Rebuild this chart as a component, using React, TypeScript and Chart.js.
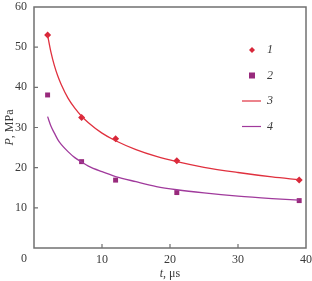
import React, { useEffect, useRef } from "react";
import { Chart, registerables } from "chart.js";

Chart.register(...registerables);

const markerT = [2, 7, 12, 21, 39];
const series1 = [53, 32.5, 27.2, 21.7, 16.9];
const series2 = [38.1, 21.5, 16.9, 13.8, 11.8];
const curveT = [2, 2.5, 3, 3.5, 4, 5, 6, 7, 8, 10, 12, 15, 18, 21, 25, 30, 35, 39];
const curve3 = [53, 48.7, 45.4, 42.8, 40.7, 37.3, 34.8, 32.8, 31.2, 28.6, 26.7, 24.5, 22.8, 21.5, 20.1, 18.8, 17.7, 17.0];
const curve4 = [32.7, 30.3, 28.6, 27.0, 25.8, 24.0, 22.5, 21.4, 20.4, 19.0, 17.8, 16.5, 15.3, 14.5, 13.7, 12.9, 12.3, 11.9];
const legendLabels = ["1", "2", "3", "4"];
const xTicks = [0, 10, 20, 30, 40];
const yTicks = [0, 10, 20, 30, 40, 50, 60];

const RED = "#d8283a";
const PURPLE = "#982a7c";
const LINE3 = "#e0303e";
const LINE4 = "#a03a9c";
const AXIS = "#707070";
const TEXT = "#3a3a3a";
const FONT = "'Liberation Serif', 'Times New Roman', serif";

const decorPlugin = {
  id: "decor",
  afterDraw(chart: any) {
    const ctx = chart.ctx;
    const { left, right, top, bottom } = chart.chartArea;
    const xs = chart.scales.x;
    const ys = chart.scales.y;
    ctx.save();
    // frame
    ctx.strokeStyle = AXIS;
    ctx.lineWidth = 1.5;
    ctx.strokeRect(left, top, right - left, bottom - top);
    // inward ticks
    ctx.lineWidth = 1.2;
    ctx.beginPath();
    xTicks.slice(1, -1).forEach((v) => {
      const px = xs.getPixelForValue(v);
      ctx.moveTo(px, bottom);
      ctx.lineTo(px, bottom - 4);
    });
    yTicks.slice(1, -1).forEach((v) => {
      const py = ys.getPixelForValue(v);
      ctx.moveTo(left, py);
      ctx.lineTo(left + 4, py);
    });
    ctx.stroke();
    // origin label
    ctx.fillStyle = TEXT;
    ctx.font = `12px ${FONT}`;
    ctx.textAlign = "center";
    ctx.textBaseline = "middle";
    ctx.fillText("0", left - 10, bottom + 11);

    // x title: "t, μs"
    const cx = (left + right) / 2;
    const ty = bottom + 26;
    ctx.textAlign = "left";
    ctx.font = `italic 12px ${FONT}`;
    const wT = ctx.measureText("t").width;
    ctx.font = `12px ${FONT}`;
    const wRest = ctx.measureText(", μs").width;
    let sx = cx - (wT + wRest) / 2;
    ctx.font = `italic 12px ${FONT}`;
    ctx.fillText("t", sx, ty);
    ctx.font = `12px ${FONT}`;
    ctx.fillText(", μs", sx + wT, ty);

    // y title: "P, MPa"
    const cy = (top + bottom) / 2;
    ctx.save();
    ctx.translate(10, cy);
    ctx.rotate(-Math.PI / 2);
    ctx.font = `italic 12px ${FONT}`;
    const wP = ctx.measureText("P").width;
    ctx.font = `12px ${FONT}`;
    const wR2 = ctx.measureText(", MPa").width;
    sx = -(wP + wR2) / 2;
    ctx.font = `italic 12px ${FONT}`;
    ctx.fillText("P", sx, 0);
    ctx.font = `12px ${FONT}`;
    ctx.fillText(", MPa", sx + wP, 0);
    ctx.restore();

    // legend
    const lx = right - 54;
    const ly0 = top + 43;
    const gap = 25.5;
    legendLabels.forEach((lab, i) => {
      const y = ly0 + i * gap;
      if (i === 0) {
        ctx.fillStyle = RED;
        ctx.beginPath();
        ctx.moveTo(lx, y - 3);
        ctx.lineTo(lx + 3, y);
        ctx.lineTo(lx, y + 3);
        ctx.lineTo(lx - 3, y);
        ctx.closePath();
        ctx.fill();
      } else if (i === 1) {
        ctx.fillStyle = PURPLE;
        ctx.fillRect(lx - 3, y - 3, 6, 6);
      } else {
        ctx.strokeStyle = i === 2 ? LINE3 : LINE4;
        ctx.lineWidth = 1.2;
        ctx.beginPath();
        ctx.moveTo(lx - 10, y);
        ctx.lineTo(lx + 9, y);
        ctx.stroke();
      }
      ctx.fillStyle = TEXT;
      ctx.font = `italic 12px ${FONT}`;
      ctx.textAlign = "left";
      ctx.textBaseline = "middle";
      ctx.fillText(lab, lx + 15, y);
    });
    ctx.restore();
  },
};

export default function App() {
  const ref = useRef<HTMLCanvasElement | null>(null);
  useEffect(() => {
    if (!ref.current) return;
    const chart = new Chart(ref.current, {
      type: "scatter",
      data: {
        datasets: [
          {
            label: "3",
            data: curveT.map((t, i) => ({ x: t, y: curve3[i] })),
            showLine: true,
            borderColor: LINE3,
            borderWidth: 1.3,
            pointRadius: 0,
            cubicInterpolationMode: "monotone",
          },
          {
            label: "4",
            data: curveT.map((t, i) => ({ x: t, y: curve4[i] })),
            showLine: true,
            borderColor: LINE4,
            borderWidth: 1.3,
            pointRadius: 0,
            cubicInterpolationMode: "monotone",
          },
          {
            label: "1",
            data: markerT.map((t, i) => ({ x: t, y: series1[i] })),
            pointStyle: "rectRot",
            pointRadius: 3.5,
            backgroundColor: RED,
            borderColor: RED,
            borderWidth: 0,
          },
          {
            label: "2",
            data: markerT.map((t, i) => ({ x: t, y: series2[i] })),
            pointStyle: "rect",
            pointRadius: 3.5,
            backgroundColor: PURPLE,
            borderColor: PURPLE,
            borderWidth: 0,
          },
        ],
      } as any,
      options: {
        animation: false,
        responsive: true,
        maintainAspectRatio: false,
        layout: { padding: { top: 7, right: 6, left: 0, bottom: 0 } },
        plugins: { legend: { display: false }, tooltip: { enabled: false } },
        scales: {
          x: {
            type: "linear",
            min: 0,
            max: 40,
            afterFit: (s: any) => {
              s.height = 33;
              s.paddingLeft = 0;
              s.paddingRight = 0;
            },
            grid: { display: false, drawTicks: false },
            border: { display: false },
            ticks: {
              stepSize: 10,
              padding: 5,
              color: TEXT,
              font: { family: FONT, size: 12 },
              callback: (v: any) => (v === 0 ? "" : String(v)),
              maxRotation: 0,
            },
          },
          y: {
            type: "linear",
            min: 0,
            max: 60,
            afterFit: (s: any) => {
              s.width = 34;
              s.paddingTop = 0;
              s.paddingBottom = 0;
            },
            grid: { display: false, drawTicks: false },
            border: { display: false },
            ticks: {
              stepSize: 10,
              padding: 7,
              color: TEXT,
              font: { family: FONT, size: 12 },
              callback: (v: any) => (v === 0 ? "" : String(v)),
            },
          },
        },
      } as any,
      plugins: [decorPlugin],
    });
    return () => chart.destroy();
  }, []);
  return (
    <div style={{ position: "absolute", left: 0, top: 0, width: 312, height: 281, background: "#fff" }}>
      <canvas ref={ref} />
    </div>
  );
}
